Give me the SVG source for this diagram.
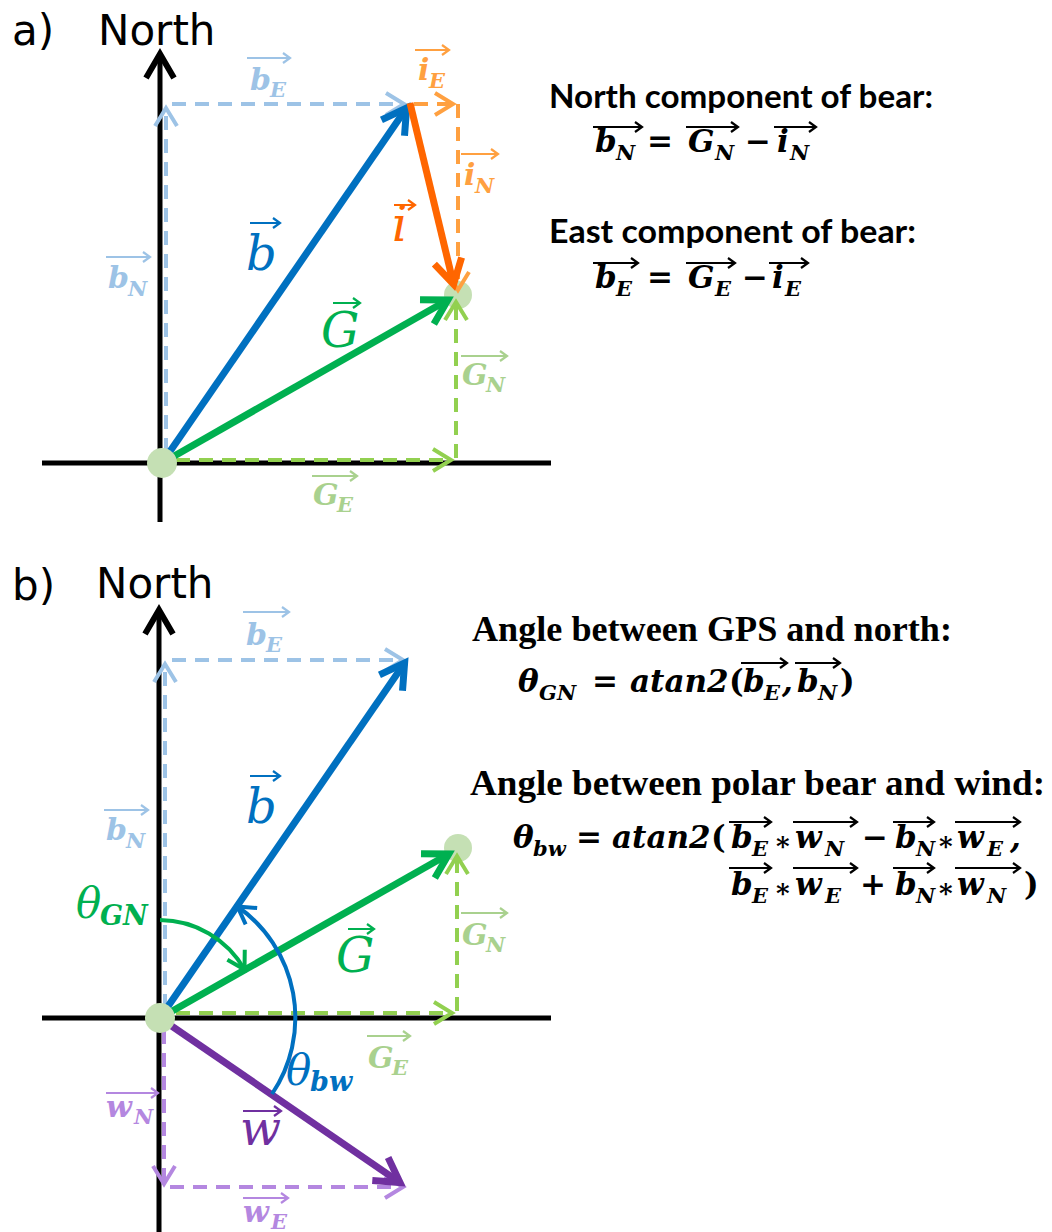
<svg xmlns="http://www.w3.org/2000/svg" width="1052" height="1232" viewBox="0 0 1052 1232">
<style>
.ax{stroke:#000;stroke-width:5;fill:none}
.vec{stroke-width:7;fill:none}
.dsh{stroke-width:4;stroke-dasharray:14 9;fill:none}
.arc{stroke-width:4;fill:none}
.cB{stroke:#0070c0}.cO{stroke:#ff6600}.cG{stroke:#00b050}.cP{stroke:#7030a0}
.cLB{stroke:#9dc3e6}.cLO{stroke:#ffa040}.cLG{stroke:#92d050}.cLGt{stroke:#a9d18e}.cLP{stroke:#b487e0}.cK{stroke:#000}
.fB{fill:#0070c0}.fO{fill:#ff6600}.fG{fill:#00b050}.fP{fill:#7030a0}
.fLB{fill:#9dc3e6}.fLO{fill:#ffa040}.fLG{fill:#a9d18e}.fLP{fill:#b487e0}.fK{fill:#000}
.dot{fill:#c5e0b4}
.ttl{font-family:"DejaVu Sans","Open Sans",sans-serif;font-size:42px;fill:#000}
.hd{font-family:Lato,"Liberation Sans",sans-serif;font-weight:bold;font-size:33px;fill:#000}
.hs{font-family:"Liberation Serif",serif;font-weight:bold;font-size:36px;fill:#000}
.mt{font-family:"DejaVu Serif",serif;font-weight:bold;font-style:italic;font-size:31px;fill:#000}
.mt .s{font-size:21px}
.mt .up{font-style:normal}
.mt .st{font-style:normal;font-size:26px}
.lab{font-family:"DejaVu Serif",serif;font-weight:bold;font-style:italic;font-size:30px}
.lab .s{font-size:21px}
.big{font-family:"DejaVu Serif",serif;font-style:italic;font-size:48px}
.th{font-family:"DejaVu Serif",serif;font-style:italic;font-size:42px}
.ths{font-family:"DejaVu Serif",serif;font-weight:bold;font-style:italic;font-size:27px}
.oa{fill:none;stroke-width:2.2}
</style>
<defs>
<marker id="mk-ax" markerUnits="userSpaceOnUse" orient="auto" refX="0" refY="0" markerWidth="60" markerHeight="60" viewBox="-30 -30 60 60" overflow="visible"><path d="M-24,-14 L0,0 L-24,14" fill="none" stroke="#000" stroke-width="6"/></marker>
<marker id="mk-b" markerUnits="userSpaceOnUse" orient="auto" refX="0" refY="0" markerWidth="60" markerHeight="60" viewBox="-30 -30 60 60" overflow="visible"><path d="M-24,-14 L0,0 L-24,14" fill="none" stroke="#0070c0" stroke-width="7"/></marker>
<marker id="mk-o" markerUnits="userSpaceOnUse" orient="auto" refX="0" refY="0" markerWidth="60" markerHeight="60" viewBox="-30 -30 60 60" overflow="visible"><path d="M-24,-14 L0,0 L-24,14" fill="none" stroke="#ff6600" stroke-width="7"/></marker>
<marker id="mk-g" markerUnits="userSpaceOnUse" orient="auto" refX="0" refY="0" markerWidth="60" markerHeight="60" viewBox="-30 -30 60 60" overflow="visible"><path d="M-24,-14 L0,0 L-24,14" fill="none" stroke="#00b050" stroke-width="7"/></marker>
<marker id="mk-p" markerUnits="userSpaceOnUse" orient="auto" refX="0" refY="0" markerWidth="60" markerHeight="60" viewBox="-30 -30 60 60" overflow="visible"><path d="M-24,-14 L0,0 L-24,14" fill="none" stroke="#7030a0" stroke-width="7"/></marker>
<marker id="mk-lb" markerUnits="userSpaceOnUse" orient="auto" refX="0" refY="0" markerWidth="50" markerHeight="50" viewBox="-25 -25 50 50" overflow="visible"><path d="M-18,-11 L0,0 L-18,11" fill="none" stroke="#9dc3e6" stroke-width="4"/></marker>
<marker id="mk-lo" markerUnits="userSpaceOnUse" orient="auto" refX="0" refY="0" markerWidth="50" markerHeight="50" viewBox="-25 -25 50 50" overflow="visible"><path d="M-18,-11 L0,0 L-18,11" fill="none" stroke="#ffa040" stroke-width="4"/></marker>
<marker id="mk-lg" markerUnits="userSpaceOnUse" orient="auto" refX="0" refY="0" markerWidth="50" markerHeight="50" viewBox="-25 -25 50 50" overflow="visible"><path d="M-18,-11 L0,0 L-18,11" fill="none" stroke="#92d050" stroke-width="4"/></marker>
<marker id="mk-lp" markerUnits="userSpaceOnUse" orient="auto" refX="0" refY="0" markerWidth="50" markerHeight="50" viewBox="-25 -25 50 50" overflow="visible"><path d="M-18,-11 L0,0 L-18,11" fill="none" stroke="#b487e0" stroke-width="4"/></marker>
<marker id="mk-ag" markerUnits="userSpaceOnUse" orient="auto" refX="0" refY="0" markerWidth="50" markerHeight="50" viewBox="-25 -25 50 50" overflow="visible"><path d="M-17,-10 L0,0 L-17,10" fill="none" stroke="#00b050" stroke-width="4"/></marker>
<marker id="mk-ab" markerUnits="userSpaceOnUse" orient="auto" refX="0" refY="0" markerWidth="50" markerHeight="50" viewBox="-25 -25 50 50" overflow="visible"><path d="M-17,-10 L0,0 L-17,10" fill="none" stroke="#0070c0" stroke-width="4"/></marker>
</defs>
<rect width="1052" height="1232" fill="#fff"/>

<!-- ========== PANEL A ========== -->
<g id="title-a"><text class="ttl" x="12" y="45">a)</text><text class="ttl" x="98" y="45">North</text></g>
<g id="tip-a"><circle class="dot" cx="458" cy="295" r="14"/></g>

<g id="connectors-a">
<line class="ax" x1="160" y1="522" x2="160" y2="54" marker-end="url(#mk-ax)"/>
<line class="ax" x1="42" y1="463" x2="551" y2="463"/>
<line class="dsh cLB" x1="166" y1="452" x2="166" y2="108" marker-end="url(#mk-lb)"/>
<line class="dsh cLB" x1="172" y1="104" x2="404" y2="104" marker-end="url(#mk-lb)"/>
<line class="dsh cLO" x1="414" y1="104" x2="453" y2="104" marker-end="url(#mk-lo)"/>
<line class="dsh cLO" x1="458" y1="104" x2="458" y2="290" marker-end="url(#mk-lo)"/>
<line class="dsh cLG" x1="176" y1="460" x2="451" y2="460" marker-end="url(#mk-lg)"/>
<line class="dsh cLG" x1="456" y1="458" x2="456" y2="302" marker-end="url(#mk-lg)"/>
<line class="vec cB" x1="162" y1="463" x2="406.6" y2="108" marker-end="url(#mk-b)"/>
<line class="vec cO" x1="410" y1="103" x2="453.6" y2="284.2" marker-end="url(#mk-o)"/>
<line class="vec cG" x1="162" y1="463" x2="447.8" y2="300" marker-end="url(#mk-g)"/>
</g>
<g id="origin-a"><circle class="dot" cx="162" cy="463" r="15"/></g>

<g id="label-bE-a"><text class="lab fLB" x="250" y="90">b<tspan class="s" x="270" y="97">E</tspan></text><path class="oa cLB" d="M247,58 H290 M283,53 L290,58 L283,63"/></g>
<g id="label-iE-a"><text class="lab fLO" x="418" y="80">i<tspan class="s" x="429" y="88">E</tspan></text><path class="oa cLO" d="M415,50 H449 M442,45 L449,50 L442,55"/></g>
<g id="label-iN-a"><text class="lab fLO" x="464" y="185">i<tspan class="s" x="475" y="193">N</tspan></text><path class="oa cLO" d="M461,154 H498 M491,149 L498,154 L491,159"/></g>
<g id="label-i-a"><text class="big fO" x="392" y="241">i</text><path class="oa cO" d="M394,205 H415 M408,200 L415,205 L408,210"/></g>
<g id="label-b-a"><text class="big fB" x="246" y="270">b</text><path class="oa cB" d="M250,223 H280 M273,218 L280,223 L273,228"/></g>
<g id="label-bN-a"><text class="lab fLB" x="108" y="288">b<tspan class="s" x="128" y="296">N</tspan></text><path class="oa cLB" d="M106,257 H150 M143,252 L150,257 L143,262"/></g>
<g id="label-G-a"><text class="big fG" x="321" y="347">G</text><path class="oa cG" d="M333,303 H360 M353,298 L360,303 L353,308"/></g>
<g id="label-GN-a"><text class="lab fLG" x="462" y="385">G<tspan class="s" x="486" y="392">N</tspan></text><path class="oa cLGt" d="M461,356 H507 M500,351 L507,356 L500,361"/></g>
<g id="label-GE-a"><text class="lab fLG" x="313" y="505">G<tspan class="s" x="337" y="512">E</tspan></text><path class="oa cLGt" d="M312,476 H357 M350,471 L357,476 L350,481"/></g>

<g id="formula-north">
<text class="hd" x="549" y="108" textLength="384" lengthAdjust="spacingAndGlyphs">North component of bear:</text>
<text class="mt" y="152"><tspan x="595">b</tspan><tspan class="s" x="616" y="160">N</tspan><tspan class="up" x="647" y="152">=</tspan><tspan x="688">G</tspan><tspan class="s" x="715" y="160">N</tspan><tspan class="up" x="745" y="152">−</tspan><tspan x="777">i</tspan><tspan class="s" x="790" y="160">N</tspan></text>
<path class="oa cK" d="M593,127 H642 M635,122 L642,127 L635,132 M686,127 H738 M731,122 L738,127 L731,132 M774,127 H816 M809,122 L816,127 L809,132"/>
</g>
<g id="formula-east">
<text class="hd" x="549" y="243" textLength="367" lengthAdjust="spacingAndGlyphs">East component of bear:</text>
<text class="mt" y="288"><tspan x="595">b</tspan><tspan class="s" x="616" y="296">E</tspan><tspan class="up" x="647" y="288">=</tspan><tspan x="688">G</tspan><tspan class="s" x="715" y="296">E</tspan><tspan class="up" x="742" y="288">−</tspan><tspan x="772">i</tspan><tspan class="s" x="785" y="296">E</tspan></text>
<path class="oa cK" d="M593,263 H638 M631,258 L638,263 L631,268 M686,263 H735 M728,258 L735,263 L728,268 M769,263 H808 M801,258 L808,263 L801,268"/>
</g>

<!-- ========== PANEL B ========== -->
<g id="title-b"><text class="ttl" x="12" y="600">b)</text><text class="ttl" x="96" y="598">North</text></g>
<g id="tip-b"><circle class="dot" cx="458" cy="848" r="14"/></g>

<g id="connectors-b">
<line class="ax" x1="159" y1="1232" x2="159" y2="610" marker-end="url(#mk-ax)"/>
<line class="ax" x1="42" y1="1018" x2="551" y2="1018"/>
<line class="dsh cLB" x1="165" y1="1008" x2="165" y2="664" marker-end="url(#mk-lb)"/>
<line class="dsh cLB" x1="172" y1="660" x2="403" y2="660" marker-end="url(#mk-lb)"/>
<line class="dsh cLG" x1="176" y1="1013" x2="452" y2="1013" marker-end="url(#mk-lg)"/>
<line class="dsh cLG" x1="457" y1="1011" x2="457" y2="856" marker-end="url(#mk-lg)"/>
<line class="dsh cLP" x1="164" y1="1030" x2="164" y2="1184" marker-end="url(#mk-lp)"/>
<line class="dsh cLP" x1="170" y1="1187" x2="403" y2="1187" marker-end="url(#mk-lp)"/>
<line class="vec cB" x1="160" y1="1018" x2="404.6" y2="663" marker-end="url(#mk-b)"/>
<line class="vec cG" x1="160" y1="1018" x2="448.8" y2="854" marker-end="url(#mk-g)"/>
<line class="vec cP" x1="160" y1="1018" x2="400" y2="1182.6" marker-end="url(#mk-p)"/>
<path class="arc cG" d="M160,920 A98,98 0 0 1 244.5,969.5" marker-end="url(#mk-ag)"/>
<path class="arc cB" d="M272,1094 A136,136 0 0 0 237.5,906.5" marker-end="url(#mk-ab)"/>
</g>
<g id="origin-b"><circle class="dot" cx="160" cy="1018" r="15"/></g>

<g id="label-bE-b"><text class="lab fLB" x="246" y="645">b<tspan class="s" x="266" y="652">E</tspan></text><path class="oa cLB" d="M243,612 H289 M282,607 L289,612 L282,617"/></g>
<g id="label-b-b"><text class="big fB" x="246" y="823">b</text><path class="oa cB" d="M250,776 H280 M273,771 L280,776 L273,781"/></g>
<g id="label-bN-b"><text class="lab fLB" x="106" y="840">b<tspan class="s" x="126" y="848">N</tspan></text><path class="oa cLB" d="M104,810 H148 M141,805 L148,810 L141,815"/></g>
<g id="label-thetaGN"><text class="fG" y="918"><tspan class="th" x="76">θ</tspan><tspan class="ths" x="100" y="925">GN</tspan></text></g>
<g id="label-G-b"><text class="big fG" x="336" y="972">G</text><path class="oa cG" d="M348,929 H374 M367,924 L374,929 L367,934"/></g>
<g id="label-GN-b"><text class="lab fLG" x="462" y="945">G<tspan class="s" x="486" y="952">N</tspan></text><path class="oa cLGt" d="M461,913 H507 M500,908 L507,913 L500,918"/></g>
<g id="label-GE-b"><text class="lab fLG" x="368" y="1068">G<tspan class="s" x="392" y="1075">E</tspan></text><path class="oa cLGt" d="M367,1036 H410 M403,1031 L410,1036 L403,1041"/></g>
<g id="label-thetabw"><text class="fB" y="1085"><tspan class="th" x="286">θ</tspan><tspan class="ths" x="310" y="1091">bw</tspan></text></g>
<g id="label-wN"><text class="lab fLP" x="106" y="1117">w<tspan class="s" x="134" y="1124">N</tspan></text><path class="oa cLP" d="M106,1093 H158 M151,1088 L158,1093 L151,1098"/></g>
<g id="label-w"><text class="big fP" x="240" y="1145">w</text><path class="oa cP" d="M243,1111 H281 M274,1106 L281,1111 L274,1116"/></g>
<g id="label-wE"><text class="lab fLP" x="243" y="1222">w<tspan class="s" x="271" y="1229">E</tspan></text><path class="oa cLP" d="M243,1198 H288 M281,1193 L288,1198 L281,1203"/></g>

<g id="formula-thetaGN">
<text class="hs" x="472" y="641" textLength="480" lengthAdjust="spacingAndGlyphs">Angle between GPS and north:</text>
<text class="mt" y="692"><tspan x="518">θ</tspan><tspan class="s" x="539" y="700">GN</tspan><tspan class="up" x="592" y="692">=</tspan><tspan x="630">atan2</tspan><tspan class="up" x="729">(</tspan><tspan x="743">b</tspan><tspan class="s" x="764" y="700">E</tspan><tspan x="782" y="692">,</tspan><tspan x="797">b</tspan><tspan class="s" x="818" y="700">N</tspan><tspan class="up" x="840" y="692">)</tspan></text>
<path class="oa cK" d="M741,663 H787 M780,658 L787,663 L780,668 M795,663 H840 M833,658 L840,663 L833,668"/>
</g>
<g id="formula-thetabw">
<text class="hs" x="470" y="795" textLength="575" lengthAdjust="spacingAndGlyphs">Angle between polar bear and wind:</text>
<text class="mt" y="848"><tspan x="513">θ</tspan><tspan class="s" x="533" y="856">bw</tspan><tspan class="up" x="576" y="848">=</tspan><tspan x="612">atan2</tspan><tspan class="up" x="711">(</tspan><tspan x="731">b</tspan><tspan class="s" x="752" y="856">E</tspan><tspan class="st" x="776" y="855">*</tspan><tspan x="795" y="848">w</tspan><tspan class="s" x="825" y="856">N</tspan><tspan class="up" x="862" y="848">−</tspan><tspan x="895">b</tspan><tspan class="s" x="916" y="856">N</tspan><tspan class="st" x="939" y="855">*</tspan><tspan x="957" y="848">w</tspan><tspan class="s" x="987" y="856">E</tspan><tspan x="1010" y="848">,</tspan></text>
<path class="oa cK" d="M729,822 H771 M764,817 L771,822 L764,827 M793,822 H857 M850,817 L857,822 L850,827 M893,822 H934 M927,817 L934,822 L927,827 M955,822 H1020 M1013,817 L1020,822 L1013,827"/>
<text class="mt" y="895"><tspan x="731">b</tspan><tspan class="s" x="752" y="903">E</tspan><tspan class="st" x="776" y="902">*</tspan><tspan x="795" y="895">w</tspan><tspan class="s" x="825" y="903">E</tspan><tspan class="up" x="860" y="895">+</tspan><tspan x="895">b</tspan><tspan class="s" x="916" y="903">N</tspan><tspan class="st" x="939" y="902">*</tspan><tspan x="957" y="895">w</tspan><tspan class="s" x="987" y="903">N</tspan><tspan class="up" x="1024" y="895">)</tspan></text>
<path class="oa cK" d="M729,868 H771 M764,863 L771,868 L764,873 M793,868 H857 M850,863 L857,868 L850,873 M893,868 H934 M927,863 L934,868 L927,873 M955,868 H1020 M1013,863 L1020,868 L1013,873"/>
</g>
</svg>
